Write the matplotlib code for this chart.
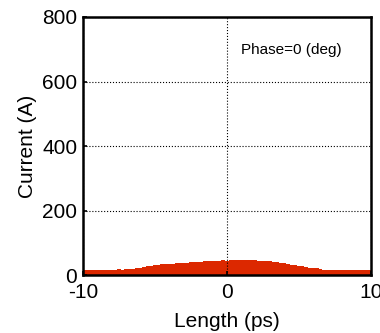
import numpy as np
import matplotlib.pyplot as plt

plt.rcParams['font.family'] = ['Liberation Sans', 'DejaVu Sans']
plt.rcParams['axes.unicode_minus'] = False

# Perfil de corrente (A), passo de 0.25 ps
length = np.arange(-10, 10.001, 0.25)
current = [17, 16, 17, 16, 15, 16, 16, 15, 16,
           17, 18, 17, 18, 18, 19, 21, 23,
           26, 28, 29, 30, 31, 33, 33, 34,
           35, 36, 36, 37, 38, 39, 40, 41,
           42, 43, 44, 44, 45, 45, 46, 45,
           47, 48, 48, 48, 47, 48, 47, 46,
           45, 45, 44, 44, 42, 40, 38, 36,
           34, 32, 30, 28, 27, 25, 23, 22,
           21, 19, 17, 16, 17, 16, 17, 16,
           17, 16, 16, 17, 16, 17, 16, 17]
xticks = [-10, 0, 10]
yticks = [0, 200, 400, 600, 800]

fig = plt.figure(figsize=(3.8, 3.33), dpi=100)
ax = fig.add_axes([0.218, 0.174, 0.758, 0.775])

ax.fill_between(length, current, step='mid', color='#DC2800', linewidth=0)

ax.set_xlim(-10, 10)
ax.set_ylim(0, 800)
ax.set_xticks(xticks)
ax.set_yticks(yticks)
ax.grid(True, color='black', linestyle=':', linewidth=0.8)
ax.tick_params(direction='in', labelsize=15, length=3, width=1.2)
ax.tick_params(axis='x', pad=6)
ax.tick_params(axis='y', pad=4)
for s in ax.spines.values():
    s.set_linewidth(1.8)

ax.set_xlabel('Length (ps)', fontsize=15, labelpad=7)
ax.set_ylabel('Current (A)', fontsize=15, labelpad=4)
ax.text(0.55, 0.872, 'Phase=0 (deg)', transform=ax.transAxes, fontsize=11,
        va='center')

fig.savefig('out.png', dpi=100)
